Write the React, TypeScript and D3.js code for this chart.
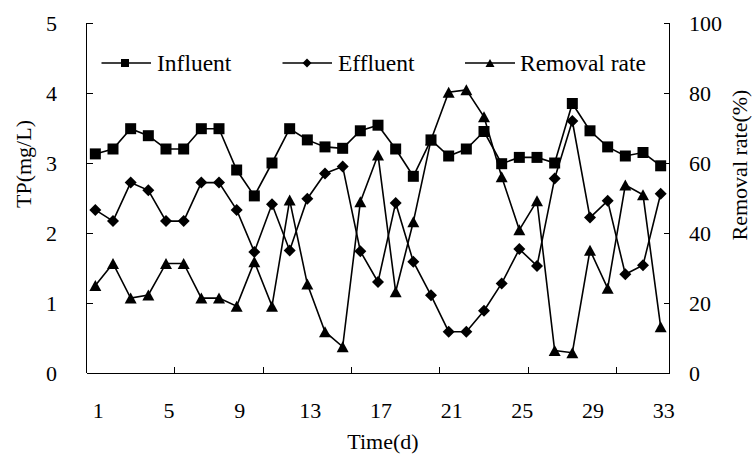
import React from "react";
import * as d3 from "d3";

const days: number[] = Array.from({ length: 33 }, (_, i) => i + 1);
const influent: number[] = [3.13, 3.2, 3.49, 3.39, 3.2, 3.2, 3.49, 3.49, 2.9, 2.53, 3.0, 3.49, 3.33, 3.23, 3.21, 3.46, 3.54, 3.2, 2.81, 3.33, 3.1, 3.2, 3.45, 2.99, 3.08, 3.08, 3.0, 3.85, 3.46, 3.23, 3.1, 3.15, 2.96];
const effluent: number[] = [2.33, 2.17, 2.72, 2.61, 2.17, 2.17, 2.72, 2.72, 2.33, 1.73, 2.41, 1.75, 2.49, 2.85, 2.95, 1.74, 1.3, 2.43, 1.59, 1.11, 0.59, 0.59, 0.89, 1.28, 1.77, 1.53, 2.78, 3.6, 2.22, 2.46, 1.41, 1.54, 2.56];
const removal: number[] = [25, 31.3, 21.4, 22.3, 31.3, 31.3, 21.4, 21.4, 19.1, 31.8, 19.1, 49.4, 25.4, 11.8, 7.5, 48.9, 62.3, 23.2, 43.2, 66.6, 80.2, 80.9, 73.2, 56.1, 40.9, 49.2, 6.4, 5.8, 35.1, 24.2, 53.7, 50.9, 13.2];
const leftTicks: number[] = [0, 1, 2, 3, 4, 5];
const rightTicks: number[] = [0, 20, 40, 60, 80, 100];
const xLabelDays: number[] = [1, 5, 9, 13, 17, 21, 25, 29, 33];
const xTickBoundaries: number[] = [5, 10, 15, 20, 25, 30];

const W = 752;
const H = 460;
const L = 86.5;
const R = 669.5;
const T = 23;
const B = 373;
const FONT = "'Liberation Serif', 'Times New Roman', serif";

const x = d3.scaleBand<number>().domain(days).range([L, R]).padding(0);
const bw = x.bandwidth();
const cx = (d: number) => (x(d) as number) + bw / 2;
const yL = d3.scaleLinear().domain([0, 5]).range([B, T]);
const yR = d3.scaleLinear().domain([0, 100]).range([B, T]);

const square = (s: number) => `M${-s / 2},${-s / 2}h${s}v${s}h${-s}Z`;
const diamond = (s: number) => `M0,${-s / 2}L${s / 2},0L0,${s / 2}L${-s / 2},0Z`;
const triangle = (w: number, h: number) => `M0,${-h / 2}L${w / 2},${h / 2}L${-w / 2},${h / 2}Z`;

export default function App() {
  const lineL = d3.line<number>().x((_, i) => cx(days[i])).y((v) => yL(v));
  const lineR = d3.line<number>().x((_, i) => cx(days[i])).y((v) => yR(v));
  const tick = 6;
  const legendY = 63;
  const legendFont = 23.5;
  return (
    <svg width={W} height={H} style={{ position: "absolute", left: 0, top: 0, background: "#fff" }} fontFamily={FONT}>
      <rect width={W} height={H} fill="#fff" />
      {/* axes */}
      <g stroke="#000" strokeWidth={1} fill="none" shapeRendering="crispEdges">
        <line x1={L} x2={L} y1={T} y2={B} />
        <line x1={R} x2={R} y1={T} y2={B} />
        <line x1={L} x2={R} y1={B} y2={B} />
        {leftTicks.map((t) => (
          <line key={"lt" + t} x1={L} x2={L + tick} y1={yL(t)} y2={yL(t)} />
        ))}
        {rightTicks.map((t) => (
          <line key={"rt" + t} x1={R - tick} x2={R} y1={yR(t)} y2={yR(t)} />
        ))}
        {xTickBoundaries.map((k) => (
          <line key={"xt" + k} x1={x(days[k]) as number} x2={x(days[k]) as number} y1={B} y2={B - tick} />
        ))}
      </g>
      {/* tick labels */}
      <g fontSize={22} fill="#000">
        {leftTicks.map((t) => (
          <text key={"ll" + t} x={57} y={yL(t)} textAnchor="end" dominantBaseline="central">{t}</text>
        ))}
        {rightTicks.map((t) => (
          <text key={"rl" + t} x={689} y={yR(t)} textAnchor="start" dominantBaseline="central">{t}</text>
        ))}
        {xLabelDays.map((d) => (
          <text key={"xl" + d} x={cx(d) + 3} y={410} textAnchor="middle" dominantBaseline="central">{d}</text>
        ))}
        <text x={383} y={441} textAnchor="middle" dominantBaseline="central">Time(d)</text>
        <text transform={`translate(23,164) rotate(-90)`} textAnchor="middle" dominantBaseline="central">TP(mg/L)</text>
        <text transform={`translate(739,165) rotate(-90)`} textAnchor="middle" dominantBaseline="central">Removal rate(%)</text>
      </g>
      {/* series */}
      <g fill="none" stroke="#000" strokeWidth={1.6}>
        <path d={lineL(influent) as string} />
        <path d={lineL(effluent) as string} />
        <path d={lineR(removal) as string} />
      </g>
      <g fill="#000">
        {influent.map((v, i) => (
          <path key={"s" + i} d={square(11)} transform={`translate(${cx(days[i])},${yL(v)})`} />
        ))}
        {effluent.map((v, i) => (
          <path key={"d" + i} d={diamond(12)} transform={`translate(${cx(days[i])},${yL(v)})`} />
        ))}
        {removal.map((v, i) => (
          <path key={"t" + i} d={triangle(12, 11)} transform={`translate(${cx(days[i])},${yR(v)})`} />
        ))}
      </g>
      {/* legend */}
      <g>
        <line x1={101.5} x2={151} y1={legendY} y2={legendY} stroke="#000" strokeWidth={1.6} />
        <path d={square(8)} transform={`translate(125,${legendY})`} fill="#000" />
        <text x={157} y={legendY} fontSize={legendFont} dominantBaseline="central">Influent</text>
        <line x1={282.5} x2={332} y1={legendY} y2={legendY} stroke="#000" strokeWidth={1.6} />
        <path d={diamond(9)} transform={`translate(307,${legendY})`} fill="#000" />
        <text x={338} y={legendY} fontSize={legendFont} dominantBaseline="central">Effluent</text>
        <line x1={465} x2={515} y1={legendY} y2={legendY} stroke="#000" strokeWidth={1.6} />
        <path d={triangle(9, 8)} transform={`translate(490,${legendY})`} fill="#000" />
        <text x={520} y={legendY} fontSize={legendFont} dominantBaseline="central">Removal rate</text>
      </g>
    </svg>
  );
}
